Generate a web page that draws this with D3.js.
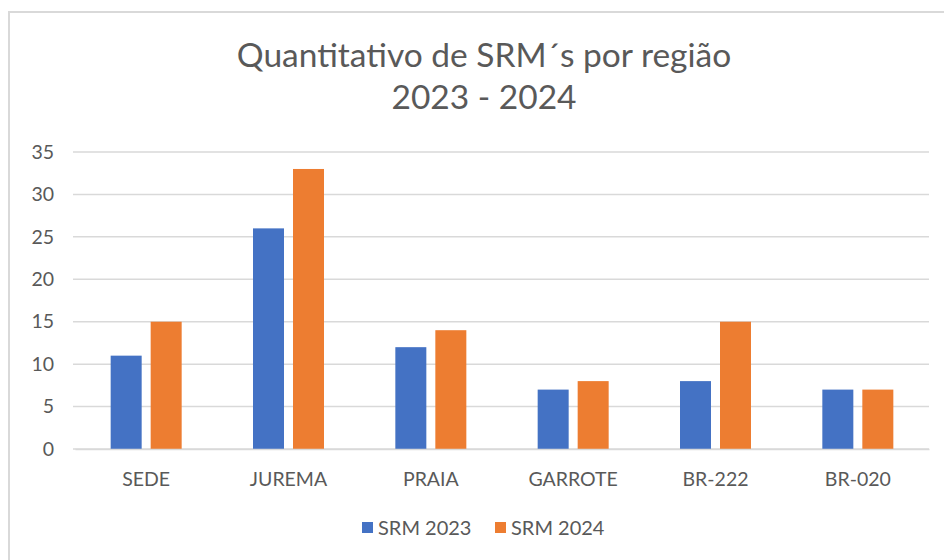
<!DOCTYPE html>
<html><head><meta charset="utf-8">
<script src="https://cdn.jsdelivr.net/npm/d3@7"></script>
<style>body{margin:0;background:#fff;} text{font-family:Lato, "Open Sans", sans-serif;}</style>
</head><body><svg id="c" width="944" height="560"></svg>
<script>
const categories = ["SEDE","JUREMA","PRAIA","GARROTE","BR-222","BR-020"];
const seriesNames = ["SRM 2023","SRM 2024"];
const srm2023 = [11,26,12,7,8,7];
const srm2024 = [15,33,14,8,15,7];
const yTicks = [0,5,10,15,20,25,30,35];
const colors = ["#4472C4","#ED7D31"];
const titleLines = ["Quantitativo de SRM´s por região","2023 - 2024"];

const svg = d3.select("#c");
svg.append("rect").attr("x",0).attr("y",0).attr("width",944).attr("height",560).attr("fill","#fff");
svg.append("rect").attr("x",9).attr("y",12).attr("width",960).attr("height",600)
  .attr("fill","#fff").attr("stroke","#d9d9d9").attr("stroke-width",2);

const x = d3.scaleBand().domain(categories).range([75,929]).padding(0);
const xs = d3.scaleBand().domain(seriesNames).range([-35.5,35.5]).paddingInner(0.225);
const y = d3.scaleLinear().domain([0,35]).range([449,152]);

// gridlines
svg.append("g").selectAll("line").data(yTicks).join("line")
  .attr("x1",73).attr("x2",929).attr("y1",d=>y(d)).attr("y2",d=>y(d))
  .attr("stroke","#d9d9d9").attr("stroke-width",1.5);

// y axis labels
const yAxis = d3.axisLeft(y).tickValues(yTicks).tickSize(0).tickPadding(0);
const ya = svg.append("g").attr("transform","translate(54,0)").call(yAxis);
ya.select(".domain").remove();
ya.selectAll("text").attr("fill","#595959").style("font-size","19.5px").style("font-family","Lato, sans-serif");

// bars
const data = [srm2023, srm2024];
data.forEach((vals,si)=>{
  svg.append("g").selectAll("rect").data(vals).join("rect")
    .attr("x",(d,i)=>x(categories[i])+x.bandwidth()/2+xs(seriesNames[si]))
    .attr("width",xs.bandwidth())
    .attr("y",d=>y(d)).attr("height",d=>y(0)-y(d))
    .attr("fill",colors[si]);
});

// x axis
const xAxis = d3.axisBottom(x).tickSize(0).tickPadding(0);
const xa = svg.append("g").attr("transform","translate(0,449)").call(xAxis);
xa.select(".domain").attr("stroke","#d9d9d9").attr("stroke-width",1.5);
xa.selectAll("text").attr("fill","#595959").attr("dy",0).attr("y",37)
  .style("font-size","19.5px").style("font-family","Lato, sans-serif");

// title
svg.append("text").attr("x",484).attr("y",67).attr("text-anchor","middle")
  .attr("fill","#595959").style("font-size","33.5px").text(titleLines[0]);
svg.append("text").attr("x",484).attr("y",109).attr("text-anchor","middle")
  .attr("fill","#595959").style("font-size","33.5px").text(titleLines[1]);

// legend
const legX = [362,495];
seriesNames.forEach((s,i)=>{
  svg.append("rect").attr("x",legX[i]).attr("y",522).attr("width",11).attr("height",11).attr("fill",colors[i]);
  svg.append("text").attr("x",legX[i]+16).attr("y",535).attr("fill","#595959")
    .style("font-size","20px").text(s);
});
</script></body></html>
